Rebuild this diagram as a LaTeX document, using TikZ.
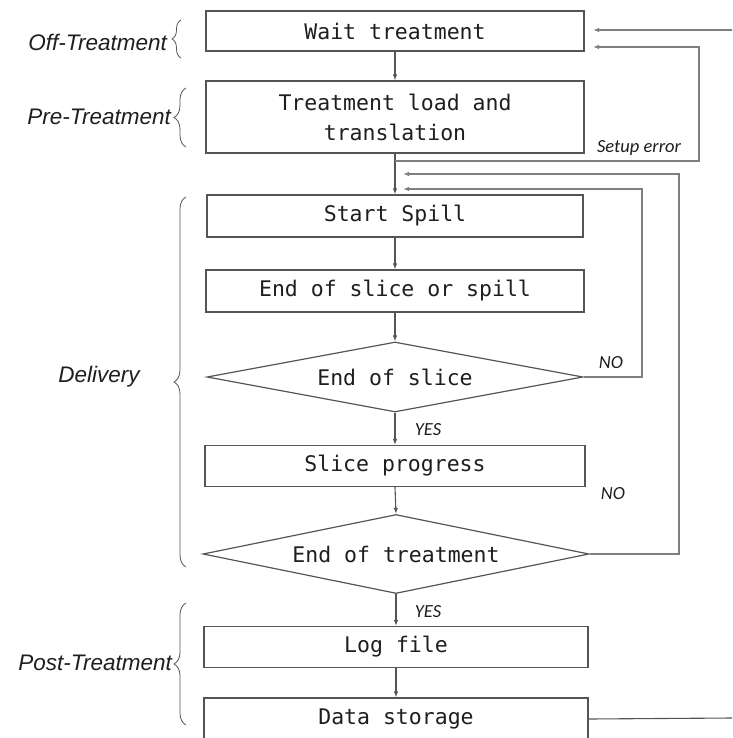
\documentclass[tikz,border=0pt]{standalone}
\usepackage{fontspec}
\usetikzlibrary{arrows.meta,shapes.geometric,decorations.pathreplacing}
\newfontfamily\monofnt{DejaVu Sans Mono}
\newfontfamily\labfnt{Liberation Sans}
\newfontfamily\calfnt{Carlito}
\definecolor{boxc}{HTML}{555555}
\definecolor{txtc}{HTML}{1E1E1E}
\definecolor{fbc}{HTML}{7F7F7F}
\tikzset{
  stepbox/.style={draw=boxc, line width=1.2pt, rectangle, inner sep=0pt, text=txtc,
    font=\monofnt\fontsize{21.5}{30}\selectfont, align=center},
  decbox/.style={draw=boxc, line width=1.2pt, diamond, aspect=5, inner sep=0pt, text=txtc,
    font=\monofnt\fontsize{21.5}{30}\selectfont},
  flow/.style={draw=boxc, line width=1.1pt, -{Latex[length=6pt,width=4.5pt]}},
  fback/.style={draw=fbc, line width=1.6pt, -{Latex[length=6pt,width=4.5pt]}},
  phase/.style={text=txtc, font=\labfnt\itshape\fontsize{22.5}{26}\selectfont, inner sep=0pt},
  small/.style={text=txtc, font=\calfnt\itshape\fontsize{18.5}{20}\selectfont, inner sep=0pt},
  brc/.style={draw=boxc, line width=0.8pt, decorate, decoration={brace, amplitude=12pt}}
}
\begin{document}
\begin{tikzpicture}[x=1pt,y=-1pt]
\useasboundingbox (0,0) rectangle (732,738);

% boxes
\node[stepbox, minimum width=378pt, minimum height=40pt] (wait) at (395,31) {Wait treatment};
\node[stepbox, minimum width=378pt, minimum height=72pt] (treat) at (395,117) {Treatment load and\\translation};
\node[stepbox, minimum width=376pt, minimum height=42pt] (spill) at (395,216) {Start Spill};
\node[stepbox, minimum width=378pt, minimum height=42pt] (sos) at (395,291) {End of slice or spill};
\node[decbox, minimum width=376pt, minimum height=70pt] (d1) at (395,377) {End of slice};
\node[stepbox, minimum width=380pt, minimum height=41pt] (prog) at (395,466) {Slice progress};
\node[decbox, minimum width=386pt, minimum height=79pt] (d2) at (396,554) {End of treatment};
\node[stepbox, minimum width=384pt, minimum height=41pt] (log) at (396,647) {Log file};
\node[stepbox, minimum width=384pt, minimum height=42pt] (data) at (396,719) {Data storage};

% main flow
\draw[flow] (wait.south) -- (treat.north);
\draw[flow] (treat.south) -- (spill.north);
\draw[flow] (spill.south) -- (sos.south |- sos.north);
\draw[flow] (sos.south) -- (d1.north);
\draw[flow] (d1.south) -- (prog.north);
\draw[flow] (prog.south) -- (d2.north);
\draw[flow] (d2.south) -- (log.north);
\draw[flow] (log.south) -- (data.north);

% labels
\node[small] (yes1) at (428,430) {YES};
\node[small] (yes2) at (428,612) {YES};
\node[small] (no1) at (611,363) {NO};
\node[small] (no2) at (613,494) {NO};
\node[small] (setup) at (639,148) {Setup error};

% feedback coordinates
\coordinate (se) at (395,161);
\coordinate (seR) at (699,161);
\coordinate (seT) at (593,47);
\coordinate (l1R) at (642,377);
\coordinate (l1T) at (403,189);
\coordinate (l2R) at (679,554);
\coordinate (l2T) at (403,174);
\coordinate (inR) at (732,30);
\coordinate (inT) at (593,30);
\coordinate (outR) at (732,718);

\draw[fback] (se) -- (seR) |- (seT);
\draw[fback] (d1.east) -- (l1R) |- (l1T);
\draw[fback] (d2.east) -- (l2R) |- (l2T);
\draw[fback] (inR) -- (inT);
\draw[draw=boxc, line width=1.1pt] (data.east) -- (outR);

% phases
\node[phase, anchor=east] (off) at (167,42) {Off-Treatment};
\node[phase, anchor=east] (pre) at (171,117) {Pre-Treatment};
\node[phase] (del) at (99,377) {Delivery};
\node[phase, anchor=east] (post) at (172,663) {Post-Treatment};

\coordinate (offB) at (181,58);
\coordinate (offT) at (181,20);
\coordinate (preB) at (186,147);
\coordinate (preT) at (186,88);
\coordinate (delB) at (186,567);
\coordinate (delT) at (186,197);
\coordinate (postB) at (186,725);
\coordinate (postT) at (186,603);
\draw[brc, decoration={amplitude=9pt}] (offB) -- (offT);
\draw[brc] (preB) -- (preT);
\draw[brc] (delB) -- (delT);
\draw[brc] (postB) -- (postT);
\end{tikzpicture}
\end{document}
